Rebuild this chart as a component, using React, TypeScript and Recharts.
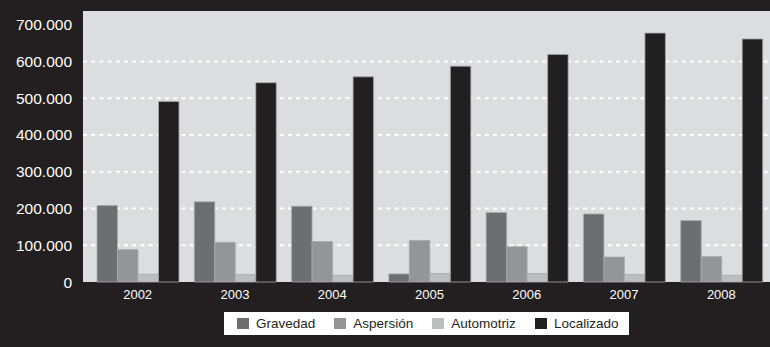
import { BarChart, Bar, XAxis, YAxis, CartesianGrid, Legend } from "recharts";

const years = ["2002", "2003", "2004", "2005", "2006", "2007", "2008"];
const gravedad = [208000, 218000, 206000, 22000, 189000, 185000, 167000];
const aspersion = [88000, 108000, 110000, 113000, 96000, 68000, 69000];
const automotriz = [21000, 20000, 18000, 23000, 23000, 20000, 18000];
const localizado = [491000, 542000, 558000, 587000, 619000, 677000, 661000];

const yTicks = [0, 100000, 200000, 300000, 400000, 500000, 600000, 700000];
const gridValues = [100000, 200000, 300000, 400000, 500000, 600000];

const series = [
  { key: "gravedad", name: "Gravedad", color: "#6d6e71" },
  { key: "aspersion", name: "Aspersión", color: "#939598" },
  { key: "automotriz", name: "Automotriz", color: "#bcbec0" },
  { key: "localizado", name: "Localizado", color: "#231f20" },
];

const data = years.map((year, i) => ({
  year,
  gravedad: gravedad[i],
  aspersion: aspersion[i],
  automotriz: automotriz[i],
  localizado: localizado[i],
}));

const BG = "#231f20";
const FONT = "'Liberation Sans', Arial, sans-serif";

// 700000 -> "700.000"
const formatThousands = (v: number): string =>
  String(v).replace(/\B(?=(\d{3})+(?!\d))/g, ".");

const LegendBox = () => (
  <div
    style={{
      background: "#ffffff",
      height: 23,
      display: "flex",
      alignItems: "center",
      paddingLeft: 13,
      fontFamily: FONT,
      fontSize: 13.5,
      color: BG,
      boxSizing: "border-box",
    }}
  >
    {series.map((s) => (
      <div
        key={s.key}
        style={{ display: "flex", alignItems: "center", marginRight: 19 }}
      >
        <div style={{ width: 12, height: 11, background: s.color, marginRight: 7 }} />
        <span>{s.name}</span>
      </div>
    ))}
  </div>
);

export default function App() {
  return (
    <div
      style={{
        position: "absolute",
        left: 0,
        top: 0,
        width: 770,
        height: 347,
        background: BG,
      }}
    >
      <BarChart
        width={770}
        height={347}
        data={data}
        margin={{ top: 11, right: 0, left: 0, bottom: 35 }}
        barSize={20.5}
        barGap={0}
      >
        <CartesianGrid
          fill="#dcdddf"
          stroke="#ffffff"
          strokeWidth={2}
          strokeDasharray="4 4.2"
          vertical={false}
          horizontalValues={gridValues}
        />
        <XAxis
          dataKey="year"
          height={30}
          padding={{ left: 6, right: 0 }}
          axisLine={false}
          tickLine={false}
          tickSize={0}
          tickMargin={8}
          tick={{
            fill: "#ffffff",
            fontSize: 13,
            fontFamily: "'Liberation Sans Narrow', 'Liberation Sans', Arial",
          }}
        />
        <YAxis
          width={83}
          domain={[0, 737000]}
          ticks={yTicks}
          interval={0}
          axisLine={false}
          tickLine={false}
          tickSize={0}
          tickMargin={11}
          tickFormatter={formatThousands}
          tick={{ fill: "#ffffff", fontSize: 15.5, fontFamily: FONT }}
        />
        <Legend
          layout="horizontal"
          verticalAlign="middle"
          align="center"
          wrapperStyle={{ left: 224, top: 312, width: 405, height: 23 }}
          content={() => <LegendBox />}
        />
        {series.map((s) => (
          <Bar
            key={s.key}
            dataKey={s.key}
            name={s.name}
            fill={s.color}
            stroke="#a7a9ac"
            strokeWidth={0.8}
            isAnimationActive={false}
          />
        ))}
      </BarChart>
    </div>
  );
}
